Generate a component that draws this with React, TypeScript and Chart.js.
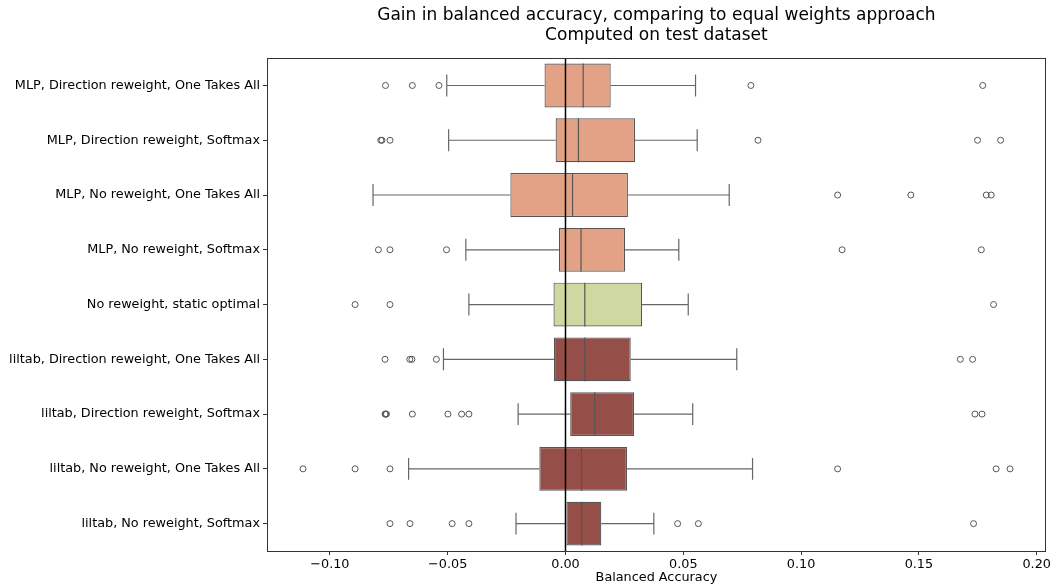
import React, { useEffect, useRef } from 'react';
import { Chart, registerables } from 'chart.js';

Chart.register(...registerables);

// ---------- data ----------
const CATEGORIES = [
  'MLP, Direction reweight, One Takes All',
  'MLP, Direction reweight, Softmax',
  'MLP, No reweight, One Takes All',
  'MLP, No reweight, Softmax',
  'No reweight, static optimal',
  'liltab, Direction reweight, One Takes All',
  'liltab, Direction reweight, Softmax',
  'liltab, No reweight, One Takes All',
  'liltab, No reweight, Softmax',
];
const GROUPS = ['MLP', 'MLP', 'MLP', 'MLP', 'static', 'liltab', 'liltab', 'liltab', 'liltab'];

const WHISKER_LOW = [-0.0504, -0.0496, -0.0817, -0.0423, -0.041, -0.0518, -0.0201, -0.0666, -0.021];
const Q1 = [-0.0089, -0.0042, -0.0234, -0.0028, -0.0051, -0.0049, 0.002, -0.0111, 0.0004];
const MEDIAN = [0.0075, 0.0055, 0.003, 0.0066, 0.0082, 0.0082, 0.0124, 0.0068, 0.0069];
const Q3 = [0.0192, 0.0295, 0.0265, 0.0253, 0.0325, 0.0277, 0.0291, 0.0261, 0.0152];
const WHISKER_HIGH = [0.0552, 0.0559, 0.0695, 0.0481, 0.0521, 0.0727, 0.054, 0.0794, 0.0375];

const OUTLIERS_0 = [-0.0764, -0.065, -0.0537, 0.0787, 0.1771];
const OUTLIERS_1 = [-0.0784, -0.0779, -0.0745, 0.0817, 0.1749, 0.1847];
const OUTLIERS_2 = [0.1155, 0.1466, 0.1786, 0.1807];
const OUTLIERS_3 = [-0.0794, -0.0745, -0.0505, 0.1174, 0.1765];
const OUTLIERS_4 = [-0.0893, -0.0745, 0.1817];
const OUTLIERS_5 = [-0.0766, -0.0661, -0.0652, -0.0548, 0.1676, 0.1728];
const OUTLIERS_6 = [-0.0766, -0.0763, -0.076, -0.065, -0.0499, -0.0441, -0.041, 0.1738, 0.1768];
const OUTLIERS_7 = [-0.1114, -0.0893, -0.0745, 0.1155, 0.1828, 0.1887];
const OUTLIERS_8 = [-0.0745, -0.066, -0.0481, -0.041, 0.0476, 0.0564, 0.1732];
const OUTLIERS = [
  OUTLIERS_0, OUTLIERS_1, OUTLIERS_2, OUTLIERS_3, OUTLIERS_4,
  OUTLIERS_5, OUTLIERS_6, OUTLIERS_7, OUTLIERS_8,
];

const X_TICKS = [-0.1, -0.05, 0, 0.05, 0.1, 0.15, 0.2];
const X_MIN = -0.1267;
const X_MAX = 0.2039;
const ZERO_LINE = 0;

const TITLE = ['Gain in balanced accuracy, comparing to equal weights approach', 'Computed on test dataset'];
const X_TITLE = 'Balanced Accuracy';

// ---------- styles ----------
const GROUP_COLORS: Record<string, string> = {
  MLP: '#E3A286',
  static: '#CFD8A0',
  liltab: '#954F48',
};
const EDGE = '#555555';
const WHISKER = '#666666';
const BOX_WIDTH = 0.8;
const CAP_WIDTH = 0.4;
const FONT = 'DejaVu Sans';
const TICK_FONT = 12.8;

const framePlugin = {
  id: 'frame',
  afterDraw(chart: any) {
    const { ctx, chartArea } = chart;
    ctx.save();
    ctx.strokeStyle = '#333333';
    ctx.lineWidth = 1;
    ctx.strokeRect(
      Math.round(chartArea.left) + 0.5,
      Math.round(chartArea.top) + 0.5,
      Math.round(chartArea.right - chartArea.left) - 1,
      Math.round(chartArea.bottom - chartArea.top)
    );
    ctx.restore();
  },
};

export default function App() {
  const ref = useRef<HTMLCanvasElement>(null);

  useEffect(() => {
    document.body.style.margin = '0';
    const canvas = ref.current;
    if (!canvas) return;
    Chart.defaults.font.family = FONT;

    const idx = CATEGORIES.map((_, i) => i);
    const gap = () => ({ x: NaN, y: NaN });
    const whiskers = idx.flatMap((i) => [
      { x: WHISKER_LOW[i], y: i }, { x: Q1[i], y: i }, gap(),
      { x: Q3[i], y: i }, { x: WHISKER_HIGH[i], y: i }, gap(),
    ]);
    const half = CAP_WIDTH / 2;
    const caps = idx.flatMap((i) => [
      { x: WHISKER_LOW[i], y: i - half }, { x: WHISKER_LOW[i], y: i + half }, gap(),
      { x: WHISKER_HIGH[i], y: i - half }, { x: WHISKER_HIGH[i], y: i + half }, gap(),
    ]);
    const bh = BOX_WIDTH / 2;
    const medians = idx.flatMap((i) => [
      { x: MEDIAN[i], y: i - bh }, { x: MEDIAN[i], y: i + bh }, gap(),
    ]);
    const outliers = idx.flatMap((i) => OUTLIERS[i].map((v) => ({ x: v, y: i })));
    const zero = [{ x: ZERO_LINE, y: -0.5 }, { x: ZERO_LINE, y: CATEGORIES.length - 0.5 }];

    const lineDs = (data: any[], color: string, width: number, order: number) => ({
      type: 'scatter' as const,
      data,
      showLine: true,
      spanGaps: false,
      borderColor: color,
      borderWidth: width,
      pointRadius: 0,
      pointHoverRadius: 0,
      xAxisID: 'x',
      yAxisID: 'y2',
      order,
    });

    const chart = new Chart(canvas, {
      type: 'bar',
      data: {
        labels: CATEGORIES,
        datasets: [
          {
            type: 'bar',
            indexAxis: 'y',
            data: idx.map((i) => [Q1[i], Q3[i]]),
            backgroundColor: GROUPS.map((g) => GROUP_COLORS[g]),
            borderColor: EDGE,
            borderWidth: 1.2,
            borderSkipped: false,
            barPercentage: BOX_WIDTH,
            categoryPercentage: 1,
            xAxisID: 'x',
            yAxisID: 'y',
            order: 5,
          } as any,
          lineDs(whiskers, WHISKER, 1.2, 6),
          lineDs(caps, WHISKER, 1.2, 6),
          lineDs(medians, EDGE, 1.2, 3),
          {
            type: 'scatter',
            data: outliers,
            pointStyle: 'circle',
            pointRadius: 3,
            pointBorderWidth: 1,
            pointBorderColor: EDGE,
            pointBackgroundColor: 'rgba(0,0,0,0)',
            borderColor: EDGE,
            backgroundColor: 'rgba(0,0,0,0)',
            xAxisID: 'x',
            yAxisID: 'y2',
            order: 4,
          } as any,
          lineDs(zero, '#000000', 1.5, 0),
        ],
      },
      options: {
        responsive: false,
        animation: false,
        devicePixelRatio: 1,
        layout: { padding: { left: 0, right: 5, top: 0, bottom: 0 } },
        plugins: {
          legend: { display: false },
          tooltip: { enabled: false },
          title: {
            display: true,
            text: TITLE,
            fullSize: false,
            color: '#000000',
            font: { size: 17, weight: 'normal', family: FONT, lineHeight: 1.15 },
            padding: { top: 6, bottom: 13 },
          },
        },
        scales: {
          x: {
            type: 'linear',
            position: 'bottom',
            min: X_MIN,
            max: X_MAX,
            offset: false,
            beginAtZero: false,
            afterBuildTicks: (s: any) => {
              s.ticks = X_TICKS.map((v) => ({ value: v }));
            },
            afterFit: (s: any) => {
              s.height = 34;
            },
            ticks: {
              color: '#000000',
              font: { size: TICK_FONT, family: FONT },
              padding: 2,
              maxRotation: 0,
              autoSkip: false,
              callback: (v: any) => Number(v).toFixed(2).replace('-', '\u2212'),
            },
            grid: {
              display: true,
              offset: false,
              drawOnChartArea: false,
              drawTicks: true,
              tickLength: 4,
              tickColor: '#333333',
            },
            border: { display: false },
            title: {
              display: true,
              text: X_TITLE,
              color: '#000000',
              font: { size: TICK_FONT, family: FONT },
              padding: { top: 0, bottom: 0 },
            },
          },
          y: {
            type: 'category',
            position: 'left',
            labels: CATEGORIES,
            offset: true,
            afterFit: (s: any) => {
              s.width = 267;
            },
            ticks: {
              color: '#000000',
              font: { size: TICK_FONT, family: FONT },
              padding: 3,
              autoSkip: false,
            },
            grid: {
              display: true,
              offset: false,
              drawOnChartArea: false,
              drawTicks: true,
              tickLength: 4,
              tickColor: '#333333',
            },
            border: { display: false },
          },
          y2: {
            type: 'linear',
            position: 'right',
            display: false,
            offset: false,
            min: -0.5,
            max: CATEGORIES.length - 0.5,
            reverse: true,
          },
        },
      } as any,
      plugins: [framePlugin],
    });

    return () => chart.destroy();
  }, []);

  return (
    <div style={{ position: 'absolute', left: 0, top: 0, width: 1053, height: 585, background: '#fff' }}>
      <canvas ref={ref} width={1053} height={585} />
    </div>
  );
}
